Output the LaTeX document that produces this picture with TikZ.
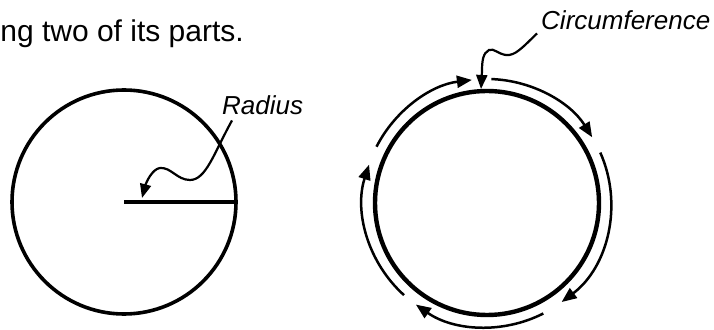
\documentclass[tikz,border=0pt]{standalone}
\usepackage{fontspec}
\setmainfont{Liberation Sans}
\usetikzlibrary{arrows.meta}

\begin{document}
\begin{tikzpicture}[x=1pt,y=1pt]
    \tikzset{lbl/.style={font=\fontsize{26}{31}\selectfont\itshape,inner sep=0pt,anchor=base west}, ptr/.style={line width=2.2pt,-{Triangle[length=14pt,width=11pt]}}, orb/.style={line width=2.5pt,-{Triangle[length=15pt,width=12pt]}}}
    \useasboundingbox[fill=white] (0,0) rectangle (714,329);
    \node[font=\fontsize{30}{36}\selectfont,inner sep=0pt,anchor=base east] (top) at (244,287) {ng two of its parts.};
    % radius
    \node[circle,draw,line width=3.6pt,minimum size=224pt,inner sep=0pt] (c1) at (124,127) {};
    \draw[line width=4.4pt] (c1.center) -- (c1.east);
    \node[lbl] (rad) at (222,214) {Radius};
    \coordinate (rtip) at (142,131);
    \draw[ptr] ([shift={(10,-5)}]rad.south west) .. controls (214,176) and (206,149) .. (190,149) .. controls (177,149) and (171,162) .. (160,161) .. controls (152,160) and (146,146) .. (rtip);
    % circumference
    \node[circle,draw,line width=4.4pt,minimum size=224pt,inner sep=0pt] (c2) at (487,126) {};
    \node[circle,minimum size=248pt,inner sep=0pt,outer sep=0pt] (orbit) at (c2) {};
    \foreach \a/\b in {153/97,88/32,24/-53,297/235,228/162}
        \draw[orb] (orbit.\a) arc[start angle=\a,end angle=\b,radius=124pt];
    \node[lbl] (circ) at (541,299) {Circumference};
    \draw[ptr] ([shift={(-4,-3)}]circ.south west) .. controls (522,281) and (515,273) .. (506,274) .. controls (498,275) and (494,281) .. (489,279) .. controls (483,276) and (482,268) .. (482,258) -- (c2.93);
\end{tikzpicture}
\end{document}
